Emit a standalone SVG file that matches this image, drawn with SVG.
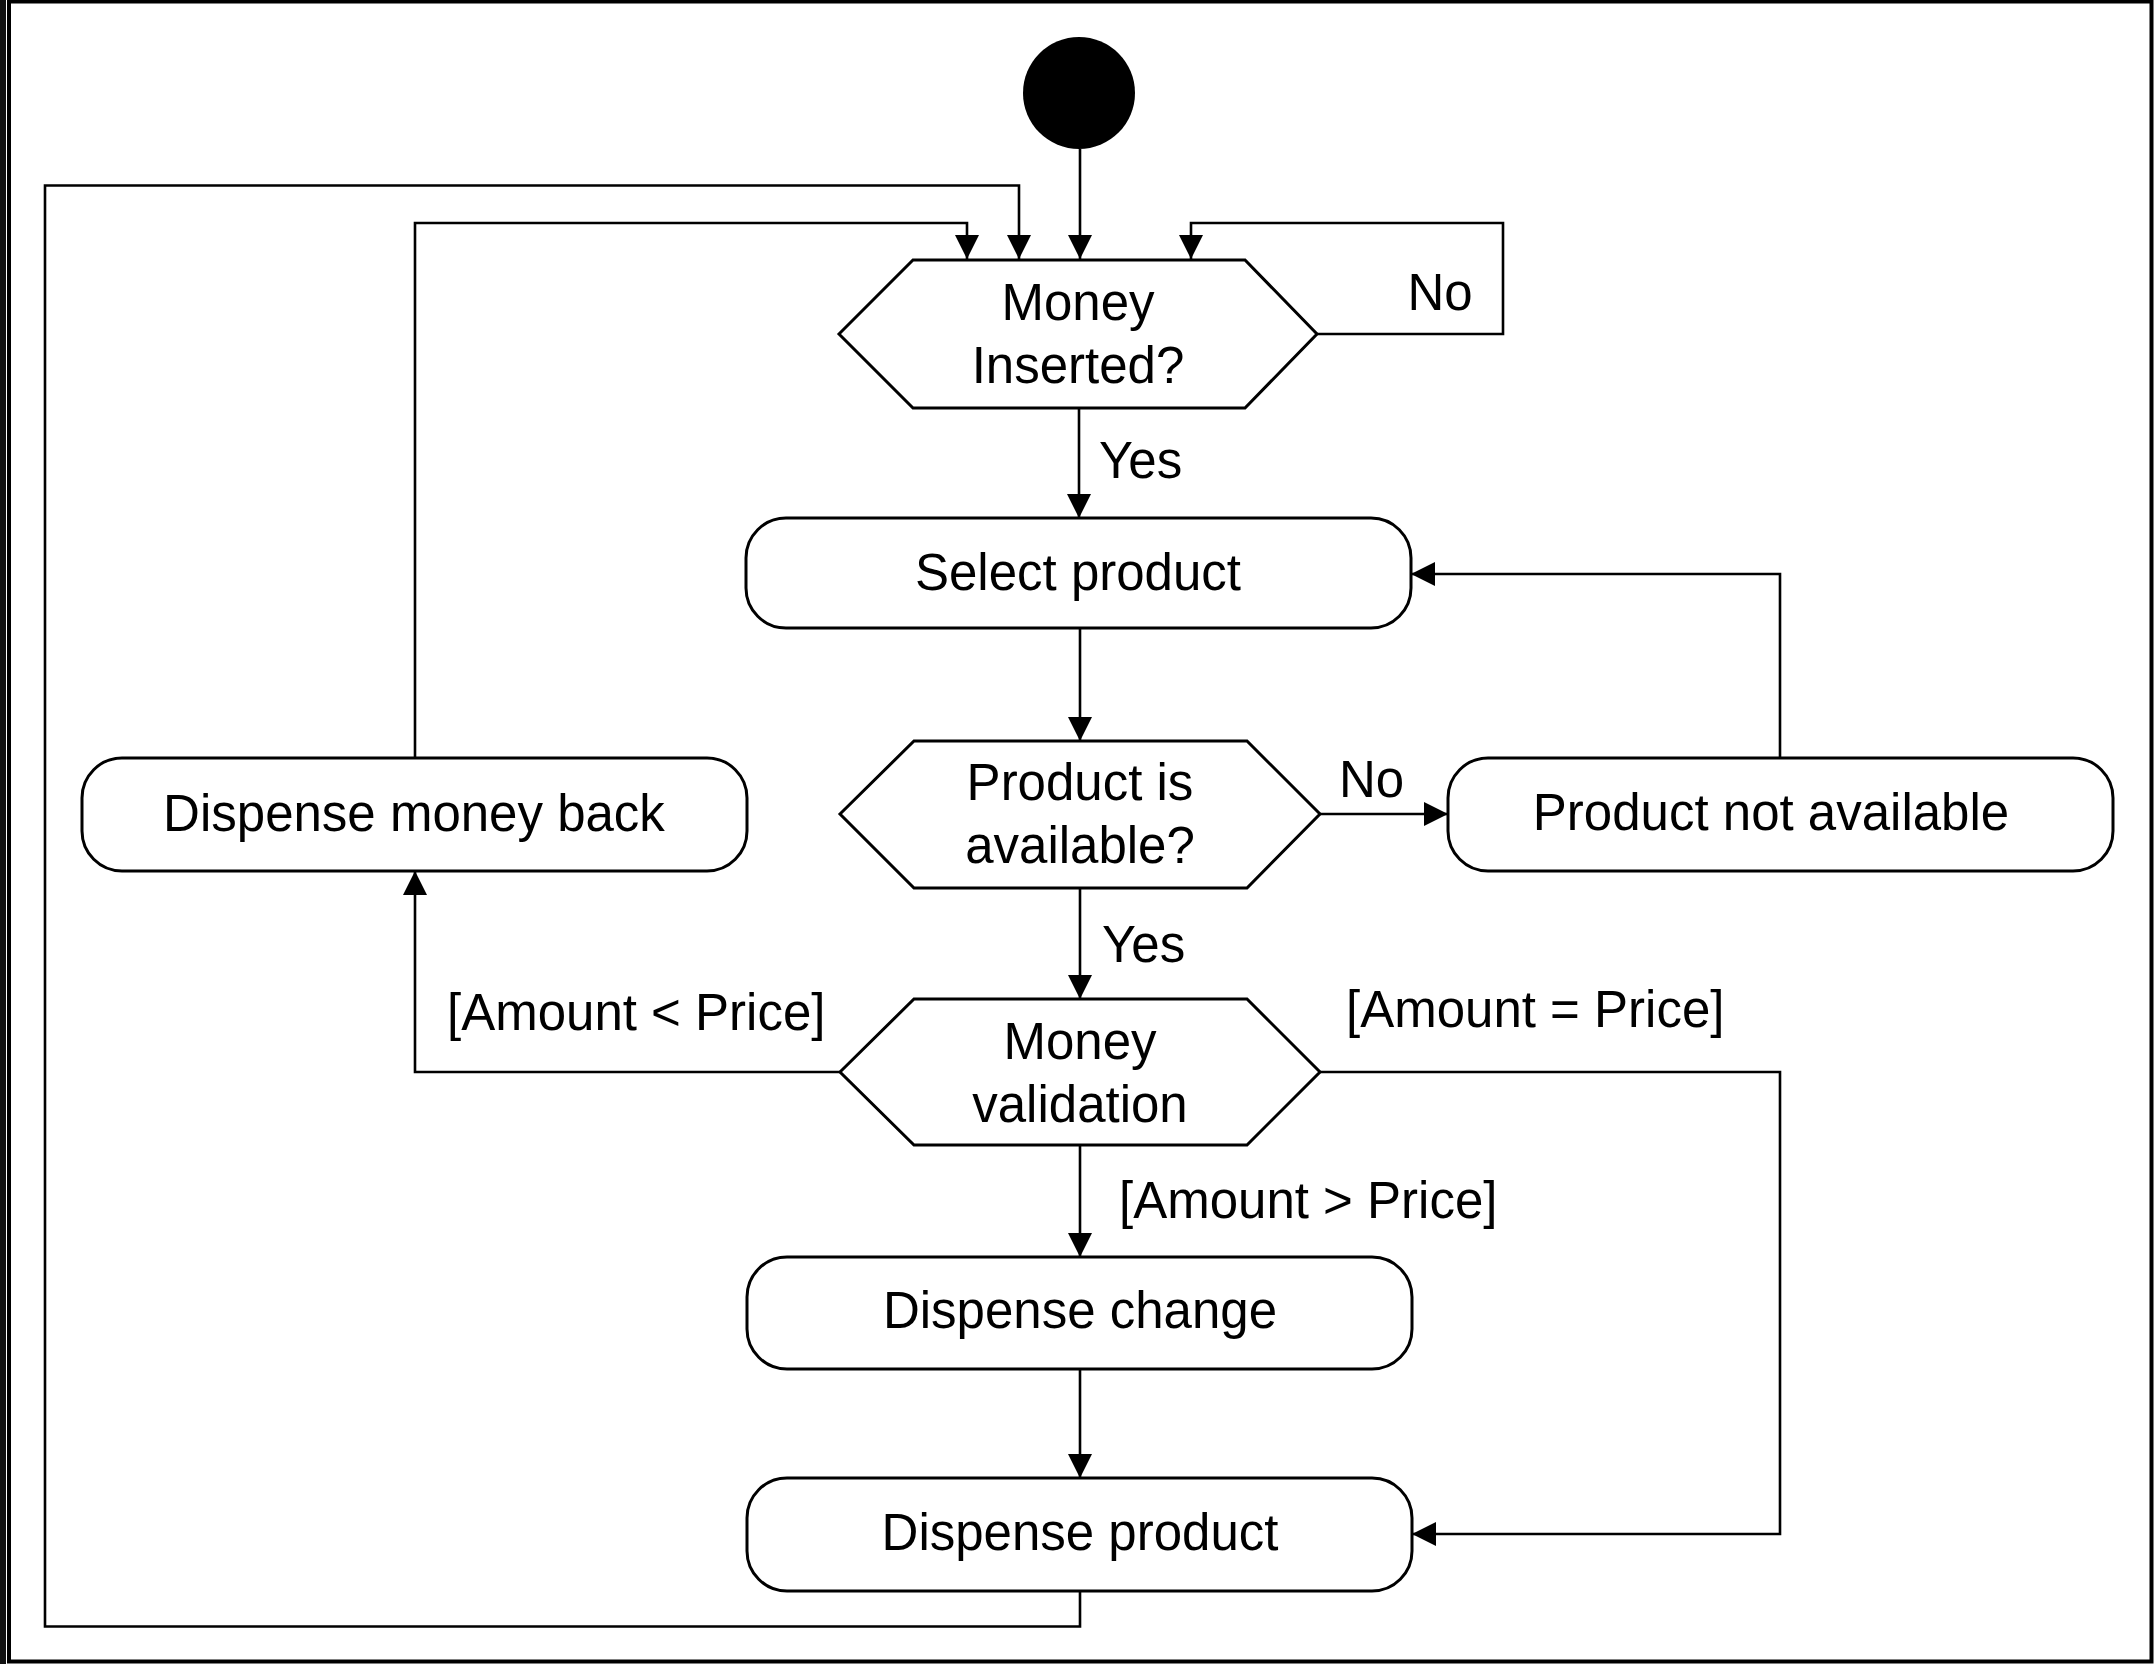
<svg xmlns="http://www.w3.org/2000/svg" width="2154" height="1664" viewBox="0 0 2154 1664">
  <defs>
    <marker id="arrow" markerUnits="userSpaceOnUse" markerWidth="24" markerHeight="24" viewBox="0 0 22 22" refX="22" refY="11" orient="auto">
      <path d="M0,0 L22,11 L0,22 Z" fill="#000"/>
    </marker>
    <style>
      .node { fill: #fff; stroke: #000; stroke-width: 3; }
      .edge { fill: none; stroke: #000; stroke-width: 2.6; marker-end: url(#arrow); }
      .edge-plain { fill: none; stroke: #000; stroke-width: 2.6; }
      text { font-family: "Liberation Sans", Arial, Helvetica, sans-serif; font-size: 51px; fill: #000; }
      .c { text-anchor: middle; }
    </style>
  </defs>

  <rect x="0" y="0" width="2154" height="1664" fill="#fff"/>
  <rect x="0" y="0" width="6" height="1664" fill="#111"/>
  <rect x="9" y="1.5" width="2142.5" height="1660" fill="none" stroke="#000" stroke-width="4"/>

  <g id="connectors">
    <path class="edge" d="M1080,149 V259"/>
    <path class="edge" d="M1079,408 V518"/>
    <path class="edge" d="M1317,334 H1503 V223 H1191 V259"/>
    <path class="edge" d="M1080,628 V741"/>
    <path class="edge" d="M1320,814 H1448"/>
    <path class="edge" d="M1780,758 V574 H1411"/>
    <path class="edge" d="M1080,888 V999"/>
    <path class="edge" d="M840,1072 H415 V871"/>
    <path class="edge" d="M1320,1072 H1780 V1534 H1412"/>
    <path class="edge" d="M1080,1145 V1257"/>
    <path class="edge" d="M1080,1369 V1478"/>
    <path class="edge" d="M1080,1591 V1626.5 H45 V185.5 H1019 V259"/>
    <path class="edge" d="M415,758 V223 H967 V259"/>
  </g>

  <g id="edge-labels">
    <text x="1440" y="310" class="c">No</text>
    <text x="1099" y="478">Yes</text>
    <text x="1339" y="797">No</text>
    <text x="1102" y="962">Yes</text>
    <text x="1346" y="1027">[Amount = Price]</text>
    <text x="447" y="1030">[Amount &lt; Price]</text>
    <text x="1119" y="1218">[Amount &gt; Price]</text>
  </g>

  <g id="start">
    <circle cx="1079" cy="93" r="56" fill="#000"/>
  </g>

  <g id="money-inserted">
    <polygon class="node" points="839,334 913,260 1245,260 1317,334 1245,408 913,408"/>
    <text x="1078" y="320" class="c">Money</text>
    <text x="1078" y="383" class="c">Inserted?</text>
  </g>

  <g id="select-product">
    <rect class="node" x="746" y="518" width="665" height="110" rx="40" ry="40"/>
    <text x="1078" y="590" class="c">Select product</text>
  </g>

  <g id="product-available">
    <polygon class="node" points="840,814 914,741 1247,741 1320,814 1247,888 914,888"/>
    <text x="1080" y="800" class="c">Product is</text>
    <text x="1080" y="863" class="c">available?</text>
  </g>

  <g id="product-not-available">
    <rect class="node" x="1448" y="758" width="665" height="113" rx="40" ry="40"/>
    <text x="1771" y="830" class="c">Product not available</text>
  </g>

  <g id="dispense-money-back">
    <rect class="node" x="82" y="758" width="665" height="113" rx="40" ry="40"/>
    <text x="414" y="831" class="c">Dispense money back</text>
  </g>

  <g id="money-validation">
    <polygon class="node" points="840,1072 914,999 1247,999 1320,1072 1247,1145 914,1145"/>
    <text x="1080" y="1059" class="c">Money</text>
    <text x="1080" y="1122" class="c">validation</text>
  </g>

  <g id="dispense-change">
    <rect class="node" x="747" y="1257" width="665" height="112" rx="40" ry="40"/>
    <text x="1080" y="1328" class="c">Dispense change</text>
  </g>

  <g id="dispense-product">
    <rect class="node" x="747" y="1478" width="665" height="113" rx="40" ry="40"/>
    <text x="1080" y="1550" class="c">Dispense product</text>
  </g>
</svg>
